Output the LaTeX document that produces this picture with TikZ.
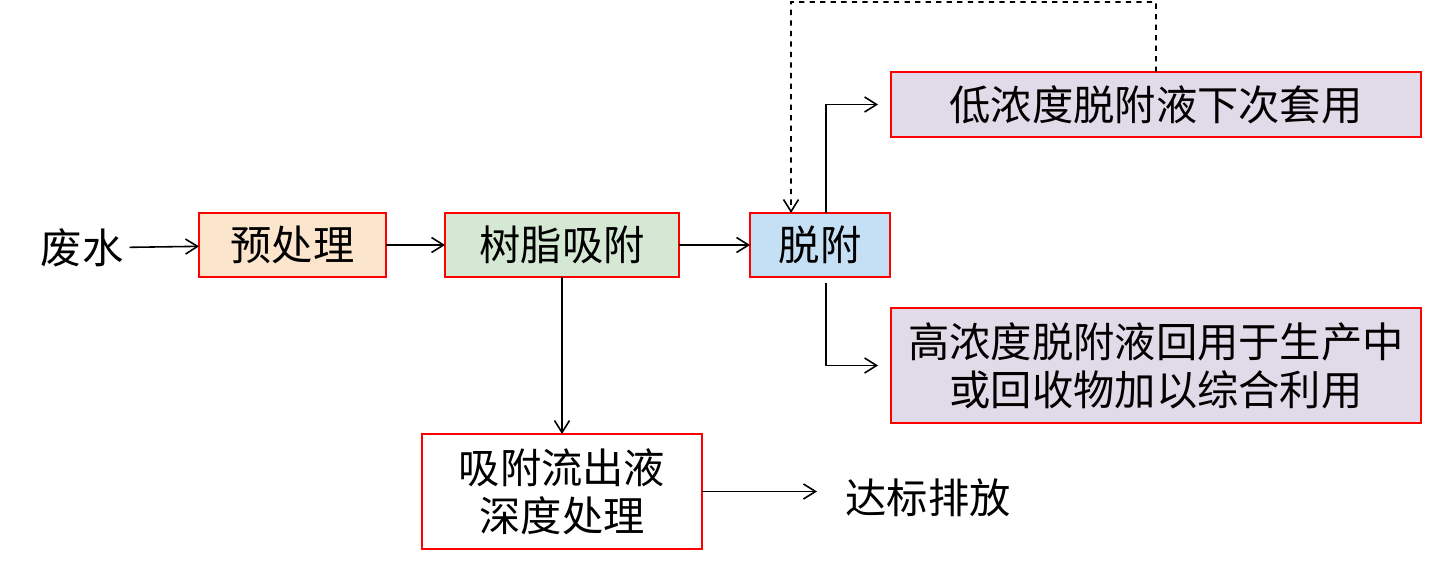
\documentclass[tikz,border=0pt]{standalone}
\usepackage{fontspec}
\setmainfont{Noto Sans CJK SC}
\usetikzlibrary{arrows.meta}
\definecolor{peach}{RGB}{252,229,205}
\definecolor{mint}{RGB}{213,232,212}
\definecolor{sky}{RGB}{197,224,244}
\definecolor{lilac}{RGB}{225,218,232}

\begin{document}
\begin{tikzpicture}[x=0.02cm, y=-0.02cm,
  box/.style={draw=red, line width=1.1pt, inner sep=0, outer sep=0, align=center,
    font=\fontsize{23.5}{27.5}\selectfont},
  word/.style={font=\fontsize{23.5}{27.5}\selectfont},
  flow/.style={line width=0.9pt, -{Straight Barb[length=2.4mm,width=3mm]}}]
\useasboundingbox (0,0) rectangle (1432,567);
% main line
\node[word] (ww) at (82,248) {废水};
\node[box, fill=peach, minimum width=3.74cm, minimum height=1.28cm] (pre) at (292.5,245) {预处理};
\node[box, fill=mint, minimum width=4.68cm, minimum height=1.28cm] (resin) at (562,245) {树脂吸附};
\node[box, fill=sky, minimum width=2.8cm, minimum height=1.28cm] (desorb) at (820,245) {脱附};
% outlets of the desorption
\node[box, fill=lilac, minimum width=10.6cm, minimum height=1.3cm] (low) at (1156,104.5) {低浓度脱附液下次套用};
\node[box, fill=lilac, minimum width=10.6cm, minimum height=2.3cm] (high) at (1156,365.5) {高浓度脱附液回用于生产中\\或回收物加以综合利用};
\node[box, fill=white, minimum width=5.6cm, minimum height=2.3cm] (deep) at (562,491.5) {吸附流出液\\深度处理};
\node[word] (out) at (928,498) {达标排放};
\coordinate (loop) at (791,2);

\draw[flow] (ww) -- (pre);
\draw[flow] (pre) -- (resin);
\draw[flow] (resin) -- (desorb);
\draw[flow] (resin) -- (deep);
\draw[flow] (deep.east) -- ([xshift=2.3cm]deep.east);
\draw[flow] ([xshift=0.12cm]desorb.north) |- ([xshift=-0.26cm]low.west);
\draw[flow] ([xshift=0.12cm,yshift=-0.12cm]desorb.south) |- ([xshift=-0.26cm]high.west);
\draw[flow, dashed] (low.north) |- (loop) -- ([xshift=-0.58cm]desorb.north);
\end{tikzpicture}
\end{document}
